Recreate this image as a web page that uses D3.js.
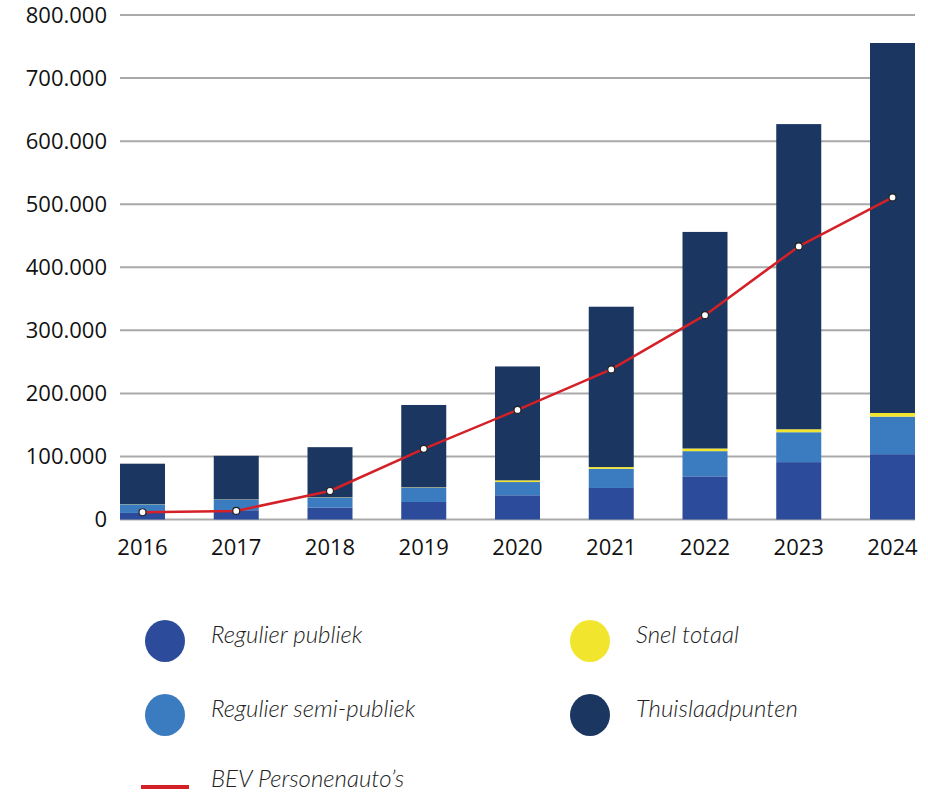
<!DOCTYPE html>
<html>
<head>
<meta charset="utf-8">
<script src="https://cdn.jsdelivr.net/npm/d3@7"></script>
<style>
    body { margin: 0; background: #fff; }
    svg { display: block; }
</style>
</head>
<body>
<div class="Canvas"></div>
<script>
// values
const years = ['2016', '2017', '2018', '2019', '2020', '2021', '2022', '2023', '2024'];
const regulierPubliek = [10400, 14700, 19000, 27800, 38400, 50000, 68400, 91000, 103600];
const regulierSemi = [13700, 16900, 15800, 22800, 21000, 30500, 40000, 47400, 59500];
const snelTotaal = [300, 300, 400, 500, 2700, 2700, 4200, 4700, 5800];
const thuislaadpunten = [64100, 69100, 79500, 130500, 180600, 254200, 343400, 483900, 586700];
const bevAutos = [11500, 13600, 45200, 112000, 173800, 238000, 324000, 433000, 510700];
const yTicks = [0, 100000, 200000, 300000, 400000, 500000, 600000, 700000, 800000];

const seriesKeys = ['publiek', 'semi', 'snel', 'thuis'];
const seriesNames = ['Regulier publiek', 'Regulier semi-publiek', 'Snel totaal', 'Thuislaadpunten'];
const colors = { publiek: '#2d4b9b', semi: '#3b7bbf', snel: '#f2e52e', thuis: '#1b3660' };
const lineColor = '#d42027';

const width = 928;
const height = 795;
const plotLeft = 120;
const plotRight = 915;
const plotTop = 15;
const plotBottom = 519.5;

let rows = years.map((y, i) => ({
    year: y,
    publiek: regulierPubliek[i],
    semi: regulierSemi[i],
    snel: snelTotaal[i],
    thuis: thuislaadpunten[i],
    bev: bevAutos[i],
}));

let svg = d3.select('.Canvas').append('svg').attr('width', width).attr('height', height);

let x = d3.scaleBand().domain(years).range([plotLeft, plotRight]).paddingInner(0.52).paddingOuter(0);
let y = d3.scaleLinear().domain([0, 800000]).range([plotBottom, plotTop]);

const fmt = (v) => d3.format(',')(v).replace(/,/g, '.');

// gridlines
svg.append('g')
    .selectAll('line')
    .data(yTicks)
    .enter()
    .append('line')
    .attr('x1', plotLeft)
    .attr('x2', plotRight)
    .attr('y1', (d) => y(d))
    .attr('y2', (d) => y(d))
    .attr('stroke', '#a9a9a9')
    .attr('stroke-width', 2);

// y axis labels
let yAxis = svg.append('g')
    .attr('transform', `translate(${plotLeft - 13},0)`)
    .call(d3.axisLeft(y).tickValues(yTicks).tickFormat(fmt).tickSize(0).tickPadding(0));
yAxis.select('.domain').remove();
yAxis.selectAll('text')
    .attr('font-family', 'Open Sans, sans-serif')
    .attr('font-size', '22px')
    .attr('fill', '#111');

// stacked bars
let stack = d3.stack().keys(seriesKeys)(rows);
svg.append('g')
    .selectAll('g')
    .data(stack)
    .enter()
    .append('g')
    .attr('fill', (d) => colors[d.key])
    .selectAll('rect')
    .data((d) => d)
    .enter()
    .append('rect')
    .attr('x', (d) => x(d.data.year))
    .attr('width', x.bandwidth())
    .attr('y', (d) => y(d[1]))
    .attr('height', (d) => y(d[0]) - y(d[1]));

// x axis labels
let xAxis = svg.append('g')
    .attr('transform', `translate(0,${plotBottom + 20})`)
    .call(d3.axisBottom(x).tickSize(0).tickPadding(0));
xAxis.select('.domain').remove();
xAxis.selectAll('text')
    .attr('font-family', 'Open Sans, sans-serif')
    .attr('font-size', '22px')
    .attr('fill', '#111');

// BEV line
let cx = (d) => x(d.year) + x.bandwidth() / 2;
let line = d3.line().x(cx).y((d) => y(d.bev));
svg.append('path')
    .datum(rows)
    .attr('d', line)
    .attr('fill', 'none')
    .attr('stroke', lineColor)
    .attr('stroke-width', 2.5)
    .attr('stroke-linejoin', 'round');
svg.append('g')
    .selectAll('circle')
    .data(rows)
    .enter()
    .append('circle')
    .attr('cx', cx)
    .attr('cy', (d) => y(d.bev))
    .attr('r', 3.5)
    .attr('fill', '#fff')
    .attr('stroke', '#222')
    .attr('stroke-width', 1.2);

// legend: publiek, semi on the left; snel, thuis on the right
let legend = svg.append('g')
    .attr('font-family', 'Lato, sans-serif')
    .attr('font-style', 'italic')
    .attr('font-weight', 300)
    .attr('font-size', '24px');
let legendItems = seriesKeys.map((k, i) => ({
    key: k,
    name: seriesNames[i],
    col: i < 2 ? 0 : 1,
    row: i % 2,
}));
let items = legend.selectAll('g.item')
    .data(legendItems)
    .enter()
    .append('g')
    .attr('class', 'item')
    .attr('transform', (d) => `translate(${d.col ? 590 : 165},${641 + d.row * 74})`);
items.append('ellipse')
    .attr('rx', 20)
    .attr('ry', 21)
    .attr('fill', (d) => colors[d.key]);
items.append('text')
    .attr('x', 46)
    .attr('y', 2)
    .attr('fill', '#222')
    .text((d) => d.name);

let bevItem = legend.append('g').attr('transform', 'translate(165,787)');
bevItem.append('line')
    .attr('x1', -24)
    .attr('x2', 24)
    .attr('stroke', lineColor)
    .attr('stroke-width', 4);
bevItem.append('text')
    .attr('x', 46)
    .attr('y', 0)
    .attr('fill', '#222')
    .text('BEV Personenauto\u2019s');
</script>
</body>
</html>
